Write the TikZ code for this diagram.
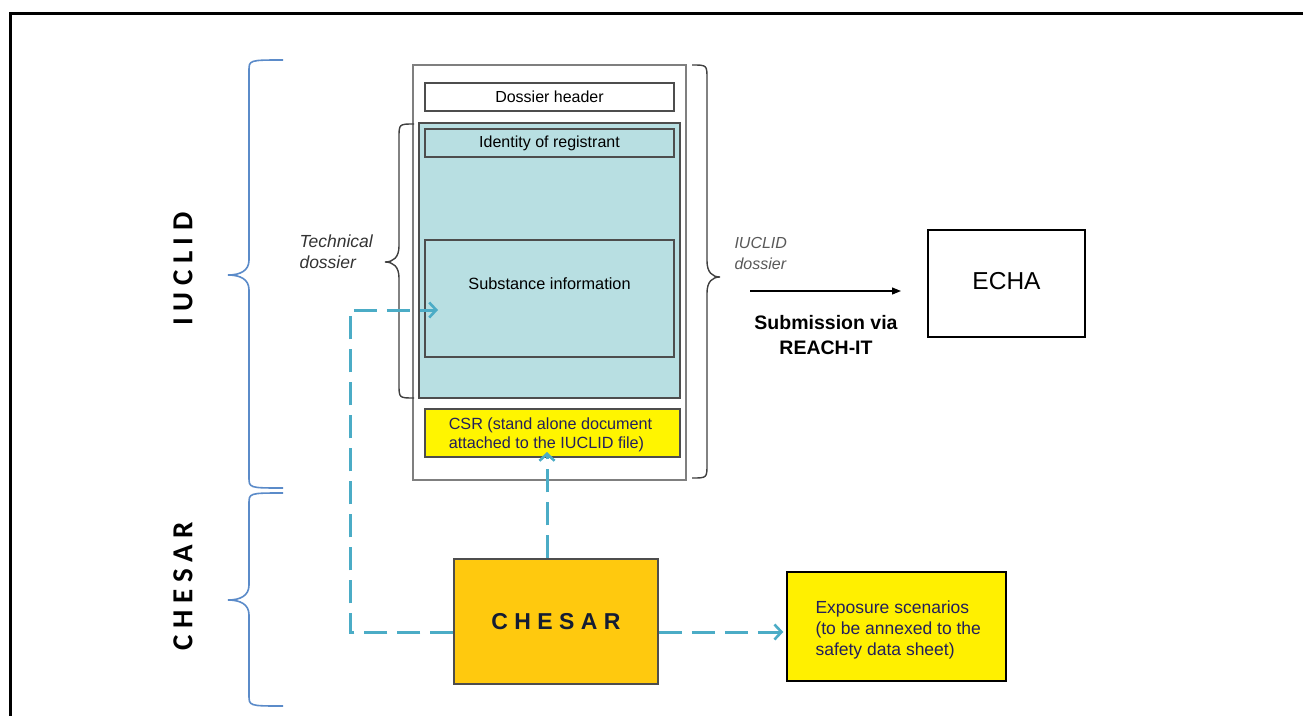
\documentclass[tikz,border=0pt]{standalone}
\usepackage{fontspec}
\setmainfont{Liberation Sans}
\newfontfamily\carl{Carlito}
\usetikzlibrary{arrows.meta,calc}
\definecolor{arrowblue}{HTML}{4BACC6}
\definecolor{braceblue}{HTML}{5B8BC9}
\definecolor{techfill}{HTML}{B8DFE2}
\definecolor{csrfill}{HTML}{FFF500}
\definecolor{expofill}{HTML}{FFF000}
\definecolor{chesarfill}{HTML}{FFC90E}
\definecolor{navytext}{HTML}{231F5C}
\definecolor{darknavy}{HTML}{141C33}
\definecolor{boxgray}{HTML}{7F7F7F}
\definecolor{innergray}{HTML}{4D4D4D}
\tikzset{
  outerbox/.style={draw=boxgray, line width=2pt, fill=white, inner sep=0pt},
  innerbox/.style={draw=innergray, line width=2pt, inner sep=0pt, font=\fontsize{16}{19}\selectfont},
  plainbox/.style={draw=black, line width=1.5pt, inner sep=0pt},
  dasharrow/.style={draw=arrowblue, line width=3pt, dash pattern=on 23pt off 10pt, -{Straight Barb[length=7pt,width=15pt,line width=2.6pt]}},
  bluebrace/.style={draw=braceblue, line width=1.6pt},
  graybrace/.style={draw=black!75, line width=1.4pt},
}
% brace: #1 style, #2 end x, #3 straight x, #4 tip x, #5 top y, #6 mid y, #7 bottom y, #8 end curl, #9 tip curl
\newcommand\mybrace[9]{%
  \draw[#1] (#2,#5) .. controls (#3,#5) and (#3,#5) .. (#3,#5+#8)
    -- (#3,#6-#9) .. controls (#3,#6-0.3*#9) and ($(#4,#6)!0.6!(#3,#6)$) .. (#4,#6)
    .. controls ($(#4,#6)!0.6!(#3,#6)$) and (#3,#6+0.3*#9) .. (#3,#6+#9)
    -- (#3,#7-#8) .. controls (#3,#7) and (#3,#7) .. (#2,#7);}
\begin{document}
\begin{tikzpicture}[x=1pt,y=-1pt]
\useasboundingbox (0,0) rectangle (1303,715);
\fill[white] (0,0) rectangle (1303,715);
\draw[line width=3pt] (10,716) -- (10,13) -- (1304,13);

% dossier
\node[outerbox, minimum width=273pt, minimum height=415pt] (outer) at (549.5,272.5) {};
\node[innerbox, fill=white, minimum width=249pt, minimum height=28pt] (header) at (549.5,96.5) {Dossier header};
\node[innerbox, fill=techfill, minimum width=261pt, minimum height=275pt] (tech) at (549.5,260.5) {};
\node[innerbox, minimum width=249pt, minimum height=28pt] (ident) at (549.5,143) {Identity of registrant};
\node[innerbox, minimum width=249pt, minimum height=117pt] (subst) at (549.5,298.5) {};
\node[font=\fontsize{16.3}{19}\selectfont] (substtext) at (549.5,284) {Substance information};
\node[innerbox, fill=csrfill, minimum width=255pt, minimum height=48pt] (csr) at (552.5,433) {};
\node[align=left, text=navytext, font=\fontsize{16.2}{19}\selectfont] (csrtext) at (550.5,435) {CSR (stand alone document\\attached to the IUCLID file)};

% braces
\mybrace{graybrace}{414}{399}{385}{124}{262}{398}{14}{16}
\mybrace{graybrace}{692}{707}{720}{65}{277}{478}{14}{16}
\mybrace{bluebrace}{283}{249}{228}{60}{275}{488}{11}{15}
\mybrace{bluebrace}{283}{249}{228}{493}{600}{706}{11}{15}

\node[rotate=90, font=\carl\bfseries\fontsize{29}{30}\selectfont] (iuclidlbl) at (183,269) {I U C L I D};
\node[rotate=90, font=\carl\bfseries\fontsize{29}{30}\selectfont] (chesarlbl) at (183,586) {C H E S A R};

\node[anchor=west, align=left, text=black!80, font=\itshape\fontsize{17.5}{21}\selectfont] (techlbl) at (296,252) {Technical\\dossier};
\node[anchor=west, align=left, text=black!65, font=\itshape\fontsize{16}{21}\selectfont] (iucliddos) at (731,253.5) {IUCLID\\dossier};

% submission
\coordinate (subA) at (750,291);
\coordinate (subB) at (901,291);
\draw[line width=1.2pt, -{Triangle[length=9pt,width=7pt]}] (subA) -- (subB);
\node[align=center, font=\bfseries\fontsize{19.5}{25}\selectfont] (sublbl) at (826,335.5) {Submission via\\REACH-IT};

\node[plainbox, minimum width=157pt, minimum height=107pt] (echa) at (1006.5,283.5) {};
\node[font=\fontsize{24.5}{28}\selectfont] (echatext) at (1006.5,281) {ECHA};

% CHESAR
\node[draw=innergray, line width=1.5pt, fill=chesarfill, minimum width=204pt, minimum height=125pt, inner sep=0pt] (chesar) at (556,621.5) {};
\node[text=darknavy, font=\bfseries\fontsize{23}{26}\selectfont] (chesartext) at (556,622) {C H E S A R};
\node[plainbox, fill=expofill, minimum width=219pt, minimum height=109pt] (expo) at (896.5,626.5) {};
\node[anchor=west, align=left, text=navytext, font=\fontsize{17.5}{21}\selectfont] (expotext) at (812,630) {Exposure scenarios\\(to be annexed to the\\safety data sheet)};

% dashed connectors
\coordinate (row) at (0,632);
\coordinate (bend) at (350,632);
\coordinate (subtip) at (438,310);
\coordinate (csrtip) at (547,452);
\draw[dasharrow] (chesar.west |- row) -- (bend) |- (subtip);
\draw[dasharrow] (chesar.north -| csrtip) -- (csrtip);
\draw[dasharrow, shorten >=3pt] (chesar.east |- row) -- (expo.west |- row);
\end{tikzpicture}
\end{document}
